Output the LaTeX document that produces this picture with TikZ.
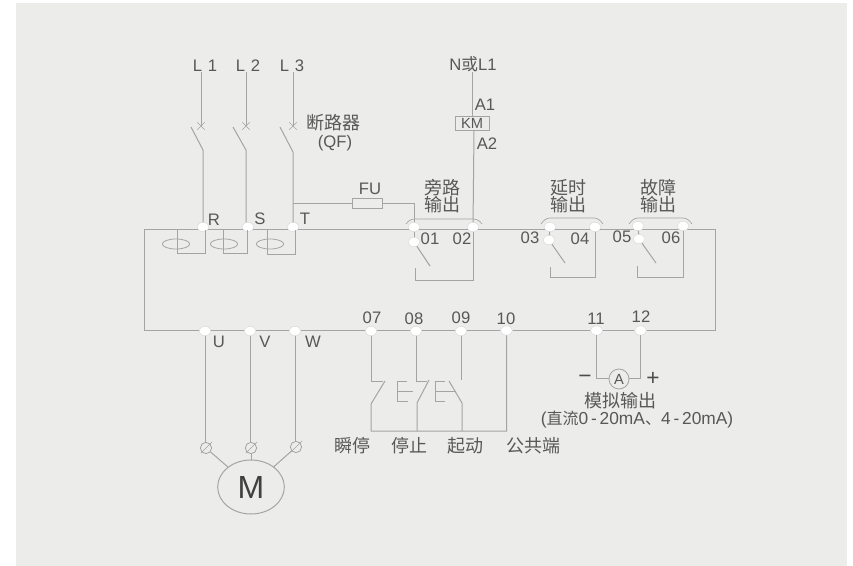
\documentclass[tikz,border=0pt]{standalone}
\usepackage{fontspec}
\setmainfont{Liberation Sans}
\newfontfamily\cjk{Noto Sans CJK SC}
\usetikzlibrary{shapes.geometric,shapes.misc}
\definecolor{panelcol}{HTML}{ECECEB}
\definecolor{wirecol}{HTML}{A4A4A4}
\definecolor{labcol}{HTML}{585858}
\tikzset{
  wire/.style={draw=wirecol, line width=.75pt},
  term/.style={ellipse, fill=white, draw=wirecol!45, line width=.3pt, minimum width=9pt, minimum height=7pt, inner sep=0pt},
  lab/.style={text=labcol, inner sep=0pt, font=\fontsize{12.5}{14}\selectfont},
  cjklab/.style={text=labcol, inner sep=0pt, align=center, font=\cjk\fontsize{13.5}{12.75}\selectfont},
  sign/.style={text=black!70, inner sep=0pt, font=\fontsize{17}{18}\selectfont},
  brk/.style={cross out, draw=wirecol, line width=.5pt, minimum size=5pt, inner sep=0pt},
  ctring/.style={ellipse, draw=wirecol, line width=.6pt, minimum width=20.5pt, minimum height=7.5pt, inner sep=0pt},
  lug/.style={circle, draw=wirecol, line width=.6pt, minimum size=8.5pt, inner sep=0pt}
}
\begin{document}
\begin{tikzpicture}[x=.75pt,y=-.75pt]
      \useasboundingbox (0,0) rectangle (853,566);
      \fill[panelcol] (16,3) rectangle (847,566);
      \coordinate (boxA) at (144,230);
      \coordinate (boxB) at (715,331);
      \draw[wire] (boxA) rectangle (boxB);

      \node[term] (R) at (203,227) {};
      \node[term] (S) at (248,227) {};
      \node[term] (T) at (293,227) {};
      \node[term] (T01) at (414,227) {};
      \node[term] (T01b) at (414,242) {};
      \node[term] (T02) at (473,227) {};
      \node[term] (T03) at (550,227) {};
      \node[term] (T03b) at (549,240) {};
      \node[term] (T04) at (595,227) {};
      \node[term] (T05) at (638,226) {};
      \node[term] (T05b) at (639,239) {};
      \node[term] (T06) at (683,226) {};
      \node[term] (U) at (205,331) {};
      \node[term] (V) at (250,331) {};
      \node[term] (W) at (295,331) {};
      \node[term] (T07) at (371,331) {};
      \node[term] (T08) at (416,331) {};
      \node[term] (T09) at (461,331) {};
      \node[term] (T10) at (506.5,330.5) {};
      \node[term] (T11) at (596.5,330.5) {};
      \node[term] (T12) at (640.5,330.5) {};

      \node[lab] (L1) at (205,66) {L\,\,1};
      \node[lab] (L2) at (248,66) {L\,\,2};
      \node[lab] (L3) at (292,66) {L\,\,3};
      \node[lab] (Rlab) at (214,220) {R};
      \node[lab] (Slab) at (260,219) {S};
      \node[lab] (Tlab) at (305,219) {T};
      \node[cjklab] (qflab) at (333,123) {断路器};
      \node[lab] (qfcode) at (335,143) {(QF)};
      \node[lab] (fulab) at (370,189) {FU};
      \node[lab] (supply) at (473,64) {N{\cjk 或}L1};
      \node[lab] (A1lab) at (485,105) {A1};
      \node[lab] (A2lab) at (487,144) {A2};
      \node[cjklab] (bypass) at (442,196.5) {旁路\\输出};
      \node[cjklab] (delay) at (568,196.5) {延时\\输出};
      \node[cjklab] (fault) at (658,196) {故障\\输出};
      \node[lab] (lab01) at (430,239) {01};
      \node[lab] (lab02) at (462,239) {02};
      \node[lab] (lab03) at (530,238) {03};
      \node[lab] (lab04) at (580,239) {04};
      \node[lab] (lab05) at (622,237) {05};
      \node[lab] (lab06) at (671,238) {06};
      \node[lab] (lab07) at (372,318) {07};
      \node[lab] (lab08) at (414,319) {08};
      \node[lab] (lab09) at (461,318) {09};
      \node[lab] (lab10) at (506,319) {10};
      \node[lab] (lab11) at (596,319) {11};
      \node[lab] (lab12) at (641,317) {12};
      \node[lab] (Ulab) at (219,342) {U};
      \node[lab] (Vlab) at (265,342) {V};
      \node[lab] (Wlab) at (313,342) {W};
      \node[cjklab] (stopnow) at (352,446) {瞬停};
      \node[cjklab] (stop) at (409,446) {停止};
      \node[cjklab] (start) at (465,446) {起动};
      \node[cjklab] (common) at (533,446) {公共端};
      \node[cjklab] (analog) at (620,401) {模拟输出};
      \node[lab, font=\fontsize{13}{15}\selectfont] (range) at (637,419.5) {({\cjk\fontsize{12}{14}\selectfont 直流}0\,-\,20mA{\cjk\fontsize{12}{14}\selectfont 、}4\,-\,20mA)};
      \node[sign] (minus) at (585,379) {−};
      \node[sign] (plus) at (653,379) {+};

      \node[brk] (qf1) at (201,126) {};
      \node[brk] (qf2) at (246,126) {};
      \node[brk] (qf3) at (293,126) {};
      \coordinate (qf1a) at (191,127);
      \coordinate (qf1b) at (203,150);
      \coordinate (qf2a) at (233,127);
      \coordinate (qf2b) at (246,150);
      \coordinate (qf3a) at (280,127);
      \coordinate (qf3b) at (293,152);
      \draw[wire] (qf1 |- L1.south) -- (qf1.center);
      \draw[wire] (qf2 |- L2.south) -- (qf2.center);
      \draw[wire] (qf3 |- L3.south) -- (qf3.center);
      \draw[wire] (qf1a) -- (qf1b) -- (R);
      \draw[wire] (qf2a) -- (qf2b) -- (qf2b |- S.north);
      \draw[wire] (qf3a) -- (qf3b) -- (T);

      \node[ctring] (ct1) at (176,244) {};
      \node[ctring] (ct2) at (224,244) {};
      \node[ctring] (ct3) at (270,244) {};
      \coordinate (ct1a) at (177,230);
      \coordinate (ct1b) at (205,230);
      \coordinate (ct2a) at (223,230);
      \coordinate (ct2b) at (247,230);
      \coordinate (ct3a) at (267,230);
      \coordinate (ct3b) at (295,230);
      \draw[wire] (ct1a) -- ++(0,24) -| (ct1b);
      \draw[wire] (ct2a) -- ++(0,24) -| (ct2b);
      \draw[wire] (ct3a) -- ++(0,25) -| (ct3b);

      \node[draw=wirecol, line width=.6pt, minimum width=23pt, minimum height=7pt, inner sep=0pt] (FU) at (367.5,203.5) {};
      \coordinate (tap) at (293,203.5);
      \draw[wire] (tap) -- (FU);
      \draw[wire] (FU) -| (T01);

      \node[lab, draw=wirecol, line width=.6pt, minimum width=25.5pt, minimum height=10.5pt, font=\fontsize{11}{12}\selectfont] (KM) at (472,123) {KM};
      \coordinate (kmout) at (474,130);
      \coordinate (hook1) at (415,268);
      \draw[wire] (supply.south -| KM) -- (KM);
      \draw[wire] (kmout) -- (T02);
      \draw[wire] (T02) -- (T02 |- 0,281) -| (hook1);
      \coordinate (blade1) at (430,266);
      \draw[wire] (T01) -- (T01b);
      \draw[wire] (T01b) -- (blade1);

      \coordinate (hook2) at (550,267);
      \coordinate (blade2) at (565,263);
      \draw[wire] (T03) -- (T03b);
      \draw[wire] (T03b) -- (blade2);
      \draw[wire] (T04) -- (T04 |- 0,278) -| (hook2);

      \coordinate (hook3) at (637,266);
      \coordinate (blade3) at (656,263);
      \draw[wire] (T05) -- (T05b);
      \draw[wire] (T05b) -- (blade3);
      \draw[wire] (T06) -- (T06 |- 0,278) -| (hook3);

      \draw[wire, line width=.5pt] (406,224) .. controls +(2,-3) and +(-4,0) .. (415,219) -- (473,219) .. controls +(4,0) and +(-2,-3) .. (482,224);
      \draw[wire, line width=.5pt] (541,224) .. controls +(2,-3) and +(-4,0) .. (550,218) -- (594,218) .. controls +(4,0) and +(-2,-3) .. (603,224);
      \draw[wire, line width=.5pt] (629,224) .. controls +(2,-3) and +(-4,0) .. (638,218) -- (683,218) .. controls +(4,0) and +(-2,-3) .. (692,224);

      \node[lug] (lugU) at (206,448) {};
      \node[lug] (lugV) at (251,448) {};
      \node[lug] (lugW) at (296,447) {};
      \node[ellipse, draw=wirecol, line width=.75pt, minimum width=50pt, minimum height=40.5pt, inner sep=0pt, text=black!75, font=\fontsize{24}{26}\selectfont] (M) at (251,487) {M};
      \draw[wire] (U) -- (U |- lugU.north);
      \draw[wire] (V) -- (V |- lugV.north);
      \draw[wire] (W) -- (W |- lugW.north);
      \draw[wire, line width=.5pt, shorten >=-2pt, shorten <=-1pt] (lugU.south west) -- (lugU.north east);
      \draw[wire, line width=.5pt, shorten >=-2pt, shorten <=-1pt] (lugV.south west) -- (lugV.north east);
      \draw[wire, line width=.5pt, shorten >=-2pt, shorten <=-1pt] (lugW.south west) -- (lugW.north east);
      \draw[wire] (lugU) -- (M);
      \draw[wire] (lugV) -- (M);
      \draw[wire] (lugW) -- (M);

      \coordinate (s07a) at (371,382);
      \coordinate (s07b) at (385,381);
      \coordinate (s07c) at (371,404);
      \coordinate (s08a) at (416,382);
      \coordinate (s08b) at (429,380);
      \coordinate (s08c) at (417,403);
      \coordinate (s09a) at (461,380);
      \coordinate (s09b) at (449,381);
      \coordinate (s09c) at (462,403);
      \coordinate (bus) at (371,431);
      \draw[wire] (T07) -- (s07a) -- ++(12,0);
      \draw[wire] (s07b) -- (s07c) -- (bus) -- (bus -| T10) -- (T10);
      \draw[wire] (T08) -- (s08a) -- ++(11,0);
      \draw[wire] (s08b) -- (s08c) -- (s08c |- bus);
      \draw[wire] (T09) -- (s09a);
      \draw[wire] (s09b) -- (s09c) -- (s09c |- bus);
      \draw[wire] (407,382) -- (397,382) -- (397,402) -- (408,402);
      \draw[wire] (397,392) -- (413,392);
      \draw[wire] (445,382) -- (435,382) -- (435,402) -- (445,402);
      \draw[wire] (435,392) -- (456,392);

      \node[circle, draw=wirecol, line width=.6pt, minimum size=15pt, inner sep=0pt, text=labcol, font=\fontsize{11}{12}\selectfont] (amp) at (619,379) {A};
      \draw[wire] (T11) |- (amp);
      \draw[wire] (T12) |- (amp);
    \end{tikzpicture}
\end{document}
